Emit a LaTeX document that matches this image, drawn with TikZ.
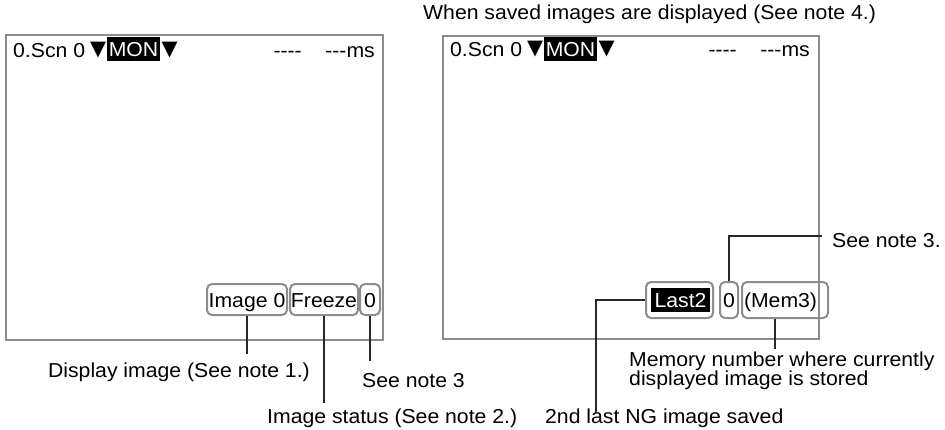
\documentclass[tikz,border=0pt]{standalone}
\usepackage{fontspec}
\setmainfont{Liberation Sans}[FakeStretch=1.05, Ligatures=TeXOff]
\newfontfamily\symfont{DejaVu Sans}
\definecolor{scrgray}{RGB}{140,140,140}
\definecolor{lnk}{RGB}{40,40,40}
\newcommand\fs{\fontsize{20.2}{18}\selectfont}
\begin{document}
\begin{tikzpicture}[x=1pt,y=-1pt,
  screen/.style={draw=scrgray, line width=2.2pt, inner sep=0pt, anchor=north west},
  tag/.style={draw=scrgray, line width=2pt, rounded corners=5pt, inner sep=0pt,
    text height=15pt, text depth=0pt, font=\fs},
  txt/.style={inner sep=0pt, font=\fs},
  tri/.style={inner sep=0pt, font=\symfont\fontsize{20.8}{20}\selectfont},
  hl/.style={fill=black, text=white, inner sep=0pt, minimum width=53pt, minimum height=24pt,
    text height=15pt, text depth=0pt, font=\fs},
  conn/.style={draw=lnk, line width=1.2pt},
]
\useasboundingbox (0,0) rectangle (945,429);

% ---------- left screen ----------
\node[screen, minimum width=377pt, minimum height=305pt] (scrL) at (5,34) {};
\node[txt, anchor=base west] (scnL) at (13,57) {0.Scn 0};
\node[tri] (triLa) at (98,50.5) {▼};
\node[hl] (monL) at (133.5,49) {MON};
\node[tri] (triLb) at (169.5,50.5) {▼};
\node[txt, anchor=base east] (dashL) at (302,57) {----};
\node[txt, anchor=base east] (msL) at (375,57) {---ms};

\node[tag, minimum width=80pt, minimum height=31pt] (img) at (247,299.5) {Image 0};
\node[tag, minimum width=68pt, minimum height=31pt] (frz) at (324,299.5) {Freeze};
\node[tag, minimum width=20pt, minimum height=31pt] (zl) at (370,299.5) {0};

\node[txt, anchor=base east] (dispimg) at (310,377) {Display image (See note 1.)};
\node[txt, anchor=base west] (seen3) at (362,387) {See note 3};
\node[txt, anchor=base west] (imgst) at (267,423) {Image status (See note 2.)};

\draw[conn] (img.south) -- ++(0,38);
\draw[conn] (frz.south) -- ++(0,87);
\draw[conn] (zl.south) -- ++(0,45);

% ---------- right screen ----------
\node[txt, anchor=base west] (when) at (423,19) {When saved images are displayed (See note 4.)};
\node[screen, minimum width=376pt, minimum height=303pt] (scrR) at (442,35) {};
\node[txt, anchor=base west] (scnR) at (450,56) {0.Scn 0};
\node[tri] (triRa) at (535,49.5) {▼};
\node[hl] (monR) at (570.5,48.5) {MON};
\node[tri] (triRb) at (606.5,49.5) {▼};
\node[txt, anchor=base east] (dashR) at (737,56) {----};
\node[txt, anchor=base east] (msR) at (810,56) {---ms};

\node[hl, minimum width=59pt, minimum height=24pt] (last) at (680.5,300) {Last2};
\node[tag, minimum width=67pt, minimum height=36pt] (lastbox) at (679.5,300) {};
\node[tag, minimum width=18pt, minimum height=36pt] (zr) at (729,300) {0};
\node[tag, minimum height=36pt, text width=82pt, align=left, inner xsep=2pt] (mem) at (785,300) {(Mem3)};

\node[txt, anchor=base west] (seen3r) at (832,247) {See note 3.};
\node[txt, anchor=base west] (mem1) at (629,366) {Memory number where currently};
\node[txt, anchor=base west] (mem2) at (629,385.5) {displayed image is stored};
\node[txt, anchor=base west] (ng) at (545,423) {2nd last NG image saved};

\coordinate (k2) at (596,413);
\coordinate (k3) at (822,236);
\draw[conn] (lastbox.west) -| (k2);
\draw[conn] (zr.north) |- (k3);
\draw[conn] ([xshift=-10pt]mem.south) -- ++(0,30);
\end{tikzpicture}
\end{document}
